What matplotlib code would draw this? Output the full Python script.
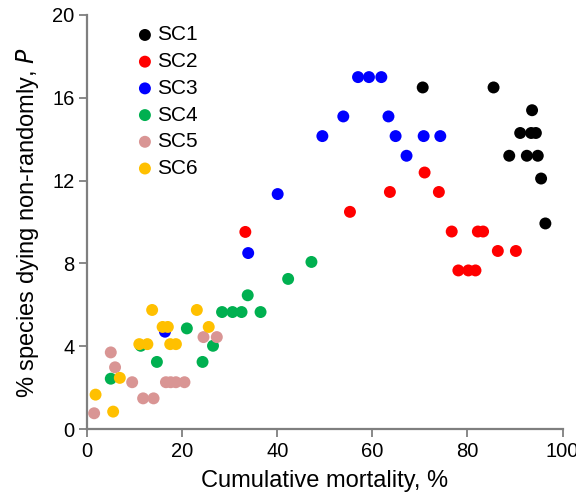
import matplotlib
matplotlib.use("Agg")
import matplotlib.pyplot as plt

plt.rcParams['font.family'] = ['Liberation Sans', 'DejaVu Sans']

series_names = ["SC1", "SC2", "SC3", "SC4", "SC5", "SC6"]
colors = ["#000000", "#FF0000", "#0000FF", "#00B050", "#D99594", "#FFC000"]

sc1_x = [70.6, 85.5, 93.6, 91.1, 93.4, 94.4, 88.8, 92.5, 94.8, 95.5, 96.4]
sc1_y = [16.5, 16.5, 15.4, 14.3, 14.3, 14.3, 13.2, 13.2, 13.2, 12.1, 9.93]

sc2_x = [33.3, 55.3, 63.7, 71.0, 74.0, 76.7, 82.2, 83.3, 86.4, 90.2, 78.1, 80.2, 81.7]
sc2_y = [9.52, 10.49, 11.45, 12.39, 11.45, 9.54, 9.54, 9.54, 8.6, 8.6, 7.66, 7.66, 7.66]

sc3_x = [57.0, 59.3, 61.9, 53.9, 63.4, 49.5, 64.9, 70.8, 74.3, 67.2, 40.1, 33.9, 16.4]
sc3_y = [17.0, 17.0, 17.0, 15.1, 15.1, 14.15, 14.15, 14.15, 14.15, 13.2, 11.35, 8.5, 4.7]

sc4_x = [47.2, 42.3, 33.8, 28.4, 30.6, 32.5, 36.5, 21.0, 26.5, 24.3, 14.7, 5.0, 11.3]
sc4_y = [8.07, 7.25, 6.46, 5.65, 5.65, 5.65, 5.65, 4.86, 4.02, 3.24, 3.24, 2.43, 4.02]

sc5_x = [1.5, 5.0, 5.9, 9.5, 11.8, 14.0, 16.6, 17.6, 18.7, 20.5, 24.5, 27.3]
sc5_y = [0.76, 3.7, 2.98, 2.26, 1.48, 1.48, 2.26, 2.26, 2.26, 2.26, 4.44, 4.44]

sc6_x = [13.7, 23.1, 15.9, 17.0, 25.6, 11.0, 12.7, 17.5, 18.7, 6.9, 1.8, 5.5]
sc6_y = [5.75, 5.75, 4.93, 4.93, 4.93, 4.1, 4.1, 4.1, 4.1, 2.47, 1.66, 0.84]

xs = [sc1_x, sc2_x, sc3_x, sc4_x, sc5_x, sc6_x]
ys = [sc1_y, sc2_y, sc3_y, sc4_y, sc5_y, sc6_y]

x_ticks = [0, 20, 40, 60, 80, 100]
y_ticks = [0, 4, 8, 12, 16, 20]

fig = plt.figure(figsize=(5.76, 4.98), dpi=100)
ax = fig.add_axes([87/576, 1-429/498, (562.5-87)/576, (429-15)/498])

for name, c, x, y in zip(series_names, colors, xs, ys):
    ax.scatter(x, y, s=74, color=c, label=name, edgecolors='none', clip_on=False, zorder=3)

ax.set_xlim(0, 100)
ax.set_ylim(0, 20)
ax.set_xticks(x_ticks)
ax.set_yticks(y_ticks)
for s in ['top', 'right']:
    ax.spines[s].set_visible(False)
for s in ['left', 'bottom']:
    ax.spines[s].set_color('#7f7f7f')
    ax.spines[s].set_linewidth(1.6)
ax.tick_params(direction='out', length=6, width=1.3, color='#7f7f7f', labelsize=14.5,
               labelcolor='black', pad=3)

ax.set_xlabel("Cumulative mortality, %", fontsize=17, labelpad=7)
ax.set_ylabel("% species dying non-randomly, $\\mathit{P}$", fontsize=17, labelpad=8)

leg = ax.legend(loc='upper left', bbox_to_anchor=(0.078, 1.005), frameon=False, fontsize=15,
                handlelength=0.8, handletextpad=0.2, labelspacing=0.37, borderaxespad=0.2,
                markerscale=1.0)

fig.savefig("out.png", dpi=100)
